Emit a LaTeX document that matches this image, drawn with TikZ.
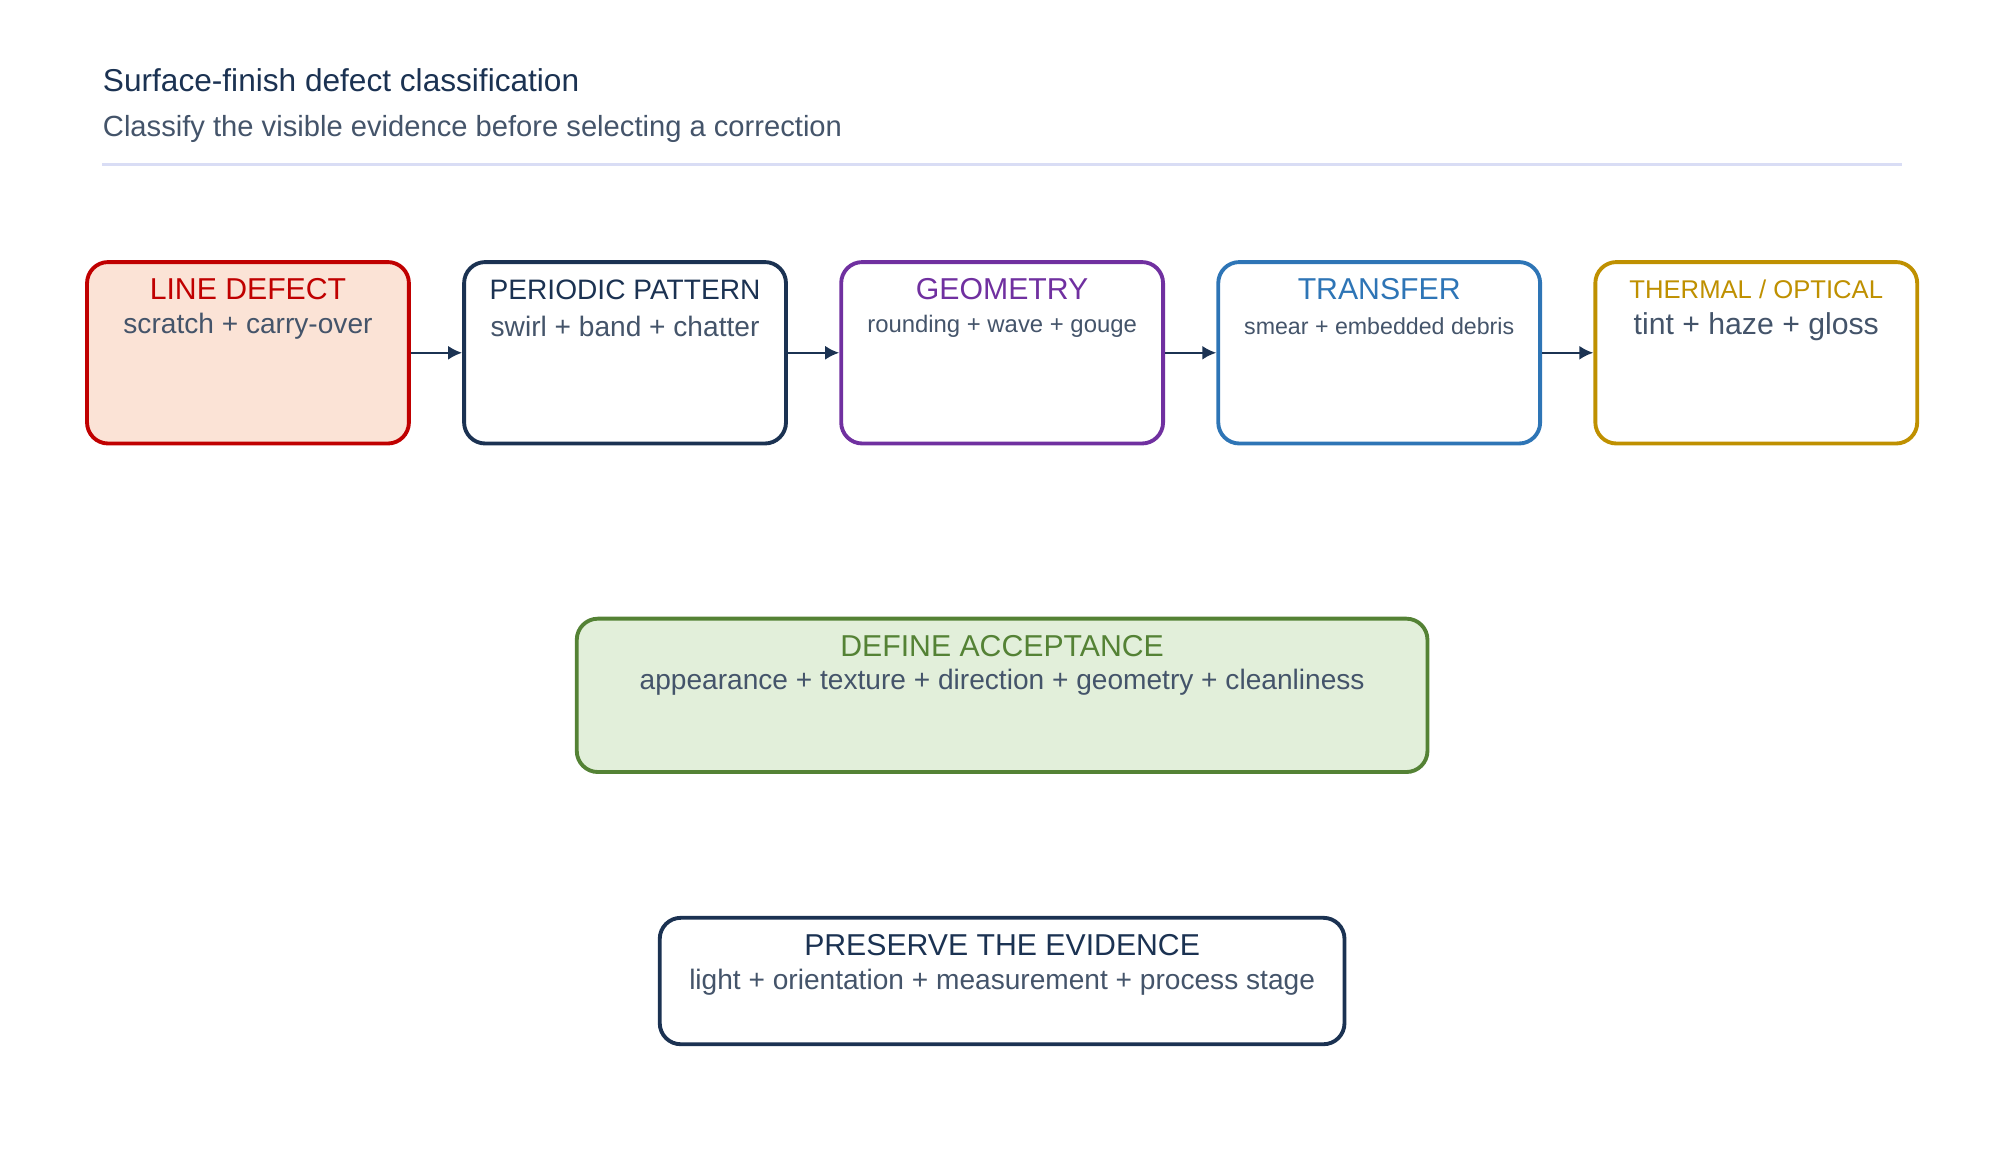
\documentclass[tikz,border=0pt]{standalone}
\usepackage{fontspec}
\setmainfont{Liberation Sans}
\usetikzlibrary{arrows.meta,positioning}
\definecolor{navy}{HTML}{1B3252}
\definecolor{redc}{HTML}{C00000}
\definecolor{redf}{HTML}{FBE3D6}
\definecolor{purp}{HTML}{7030A0}
\definecolor{bluec}{HTML}{2E75B6}
\definecolor{gold}{HTML}{BF9000}
\definecolor{greenc}{HTML}{548235}
\definecolor{greenf}{HTML}{E2EFDA}
\definecolor{bodyc}{HTML}{44546A}
\definecolor{rulec}{HTML}{D9DDF5}
\tikzset{classbox/.style={rectangle, rounded corners=6pt, draw, line width=1.1pt, fill=white, minimum width=3.22cm, minimum height=1.815cm, inner sep=0pt},
  head/.style={font=\fontsize{8.6}{10}\selectfont, anchor=center, inner sep=0pt},
  body/.style={font=\fontsize{8}{10}\selectfont, text=bodyc, anchor=center, inner sep=0pt},
  arrow/.style={-{Latex[length=4pt,width=4pt]}, navy, line width=0.7pt}}
\begin{document}
\begin{tikzpicture}[x=0.01278cm, y=-0.01278cm]
\useasboundingbox (0,0) rectangle (1560,908);

% Titel
\node[font=\fontsize{9}{11}\selectfont, text=navy, anchor=west, inner sep=0pt] (title) at (80,63) {Surface-finish defect classification};
\node[font=\fontsize{8.3}{10}\selectfont, text=bodyc, anchor=west, inner sep=0pt] (subtitle) at (80,101) {Classify the visible evidence before selecting a correction};
\draw[rulec, line width=0.8pt] (80,129) -- (1488,129);

% Klassen (obere Reihe)
\node[classbox, draw=redc, fill=redf] (line) at (194,276) {};
\node[classbox, draw=navy] (periodic) at (489,276) {};
\node[classbox, draw=purp] (geometry) at (784,276) {};
\node[classbox, draw=bluec] (transfer) at (1079,276) {};
\node[classbox, draw=gold] (thermal) at (1374,276) {};

\node[head, text=redc] at ([yshift=-0.294cm]line.north) {LINE DEFECT};
\node[body] at ([yshift=-0.665cm]line.north) {scratch + carry-over};
\node[head, text=navy, font=\fontsize{8}{10}\selectfont] at ([yshift=-0.294cm]periodic.north) {PERIODIC PATTERN};
\node[body] at ([yshift=-0.665cm]periodic.north) {swirl + band + chatter};
\node[head, text=purp] at ([yshift=-0.294cm]geometry.north) {GEOMETRY};
\node[body, font=\fontsize{6.8}{9}\selectfont] at ([yshift=-0.665cm]geometry.north) {rounding + wave + gouge};
\node[head, text=bluec] at ([yshift=-0.294cm]transfer.north) {TRANSFER};
\node[body, font=\fontsize{6.6}{9}\selectfont] at ([yshift=-0.665cm]transfer.north) {smear + embedded debris};
\node[head, text=gold, font=\fontsize{7.3}{9}\selectfont] at ([yshift=-0.294cm]thermal.north) {THERMAL / OPTICAL};
\node[body, font=\fontsize{8.6}{10}\selectfont] at ([yshift=-0.665cm]thermal.north) {tint + haze + gloss};

% Pfeile
\draw[arrow] (line.east) -- (periodic.west);
\draw[arrow] (periodic.east) -- (geometry.west);
\draw[arrow] (geometry.east) -- (transfer.west);
\draw[arrow] (transfer.east) -- (thermal.west);

% Untere Kaesten
\node[classbox, draw=greenc, fill=greenf, minimum width=8.51cm, minimum height=1.534cm] (accept) at (784,544) {};
\node[head, text=greenc] at ([yshift=-0.294cm]accept.north) {DEFINE ACCEPTANCE};
\node[body] at ([yshift=-0.652cm]accept.north) {appearance + texture + direction + geometry + cleanliness};

\node[classbox, draw=navy, minimum width=6.85cm, minimum height=1.265cm] (preserve) at (784,767.5) {};
\node[head, text=navy] at ([yshift=-0.294cm]preserve.north) {PRESERVE THE EVIDENCE};
\node[body] at ([yshift=-0.665cm]preserve.north) {light + orientation + measurement + process stage};
\end{tikzpicture}
\end{document}
